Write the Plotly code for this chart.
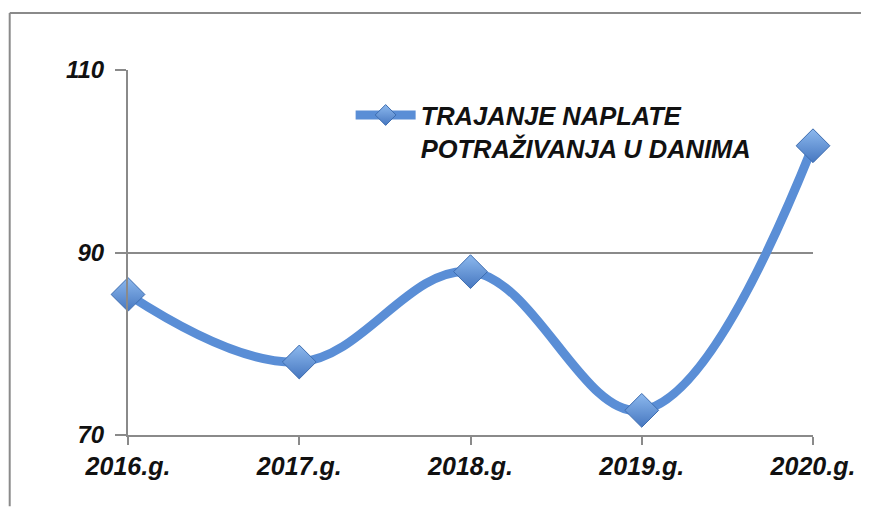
import plotly.graph_objects as go

categories = ["2016.g.", "2017.g.", "2018.g.", "2019.g.", "2020.g."]
values = [85.4, 78.0, 87.9, 72.7, 101.7]
series_name = "TRAJANJE NAPLATE<br>POTRAŽIVANJA U DANIMA"
y_ticks = [70, 90, 110]

font_family = "Liberation Sans, Arial, sans-serif"

fig = go.Figure()
fig.add_trace(go.Scatter(
    x=categories, y=values, name=series_name,
    mode="lines+markers",
    line=dict(color="#5A8ED6", width=9, shape="spline", smoothing=1.1),
    marker=dict(symbol="diamond", size=26, color="#8DB9EE",
                gradient=dict(type="vertical", color="#4677C0"),
                line=dict(color="#3E6DB0", width=1)),
    cliponaxis=False,
))

frame = dict(xref="paper", yref="paper", line=dict(color="#8a8a8a", width=2), layer="below")
fig.update_layout(
    width=859, height=500,
    margin=dict(l=120, r=50, t=62, b=73),
    paper_bgcolor="white", plot_bgcolor="white",
    font=dict(family=font_family, size=24, color="#111111", weight="bold", style="italic"),
    showlegend=True,
    legend=dict(x=0.325, y=0.94, xanchor="left", yanchor="top",
                valign="top", bgcolor="rgba(0,0,0,0)", itemwidth=60,
                font=dict(size=25.5, family=font_family, weight="bold", style="italic")),
    shapes=[
        dict(type="line", x0=-0.1727, x1=1.07, y0=1.156, y1=1.156, **frame),
        dict(type="line", x0=-0.1727, x1=-0.1727, y0=1.156, y1=-0.195, **frame),
    ],
)

fig.update_xaxes(
    type="category", range=[0, len(categories) - 1],
    showgrid=False, showline=True, linecolor="#8a8a8a", linewidth=2,
    ticks="outside", ticklen=8, tickcolor="#8a8a8a", tickwidth=2,
    tickfont=dict(size=25), ticklabelstandoff=0,
)
fig.update_yaxes(
    range=[70, 110], tickvals=y_ticks,
    showgrid=True, gridcolor="#8a8a8a", gridwidth=1.5,
    showline=True, linecolor="#8a8a8a", linewidth=2,
    ticks="outside", ticklen=11, tickcolor="#8a8a8a", tickwidth=2,
    tickfont=dict(size=24), ticklabelstandoff=6, zeroline=False,
)

fig.write_html("out.html")
